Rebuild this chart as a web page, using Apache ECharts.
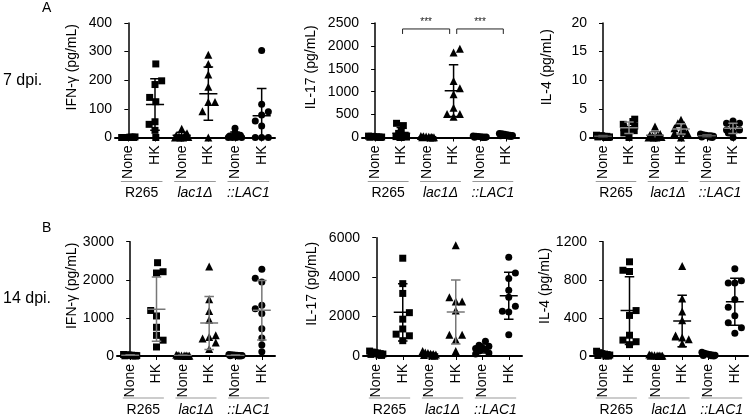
<!DOCTYPE html>
<html><head><meta charset="utf-8">
<script src="https://cdn.jsdelivr.net/npm/echarts@6/dist/echarts.min.js"></script>
<style>html,body{margin:0;padding:0;background:#fff}#c{width:750px;height:417px}</style>
</head><body><div id="c"></div>
<script>
// ---------- categories ----------
const categories = ['None','HK','None','HK','None','HK'];
const strains = ['R265','lac1Δ','::LAC1'];
const strainItalic = [false, true, true];
const groupSymbols = ['rect','rect','triangle','triangle','circle','circle'];
const spread = [-0.25,-0.15,-0.05,0.05,0.15,0.25,-0.2,0.1,0.2];

// ---------- A: 7 dpi, IFN-γ ----------
const ifn7Values = [
  [0,0,0,1,1,2,0,1,0],
  [257,198,185,140,125,55,46,25,0],
  [31,15,8,6,4,2,0,0,0],
  [289,257,220,177,124,124,92,0],
  [32,17,8,5,3,0,0,0,0],
  [304,116,90,79,58,40,0,0,0]
];
const ifn7Jitter = [
  spread,
  [0.03,0.25,0,-0.2,0.03,0,-0.22,0,0.03],
  [0,0.2,-0.2,0.1,-0.1,0.25,-0.25,0.05,-0.05],
  [0,0,0,0,0,0.25,-0.22,0],
  [0,0,0.2,-0.2,0.1,-0.25,0.25,-0.1,0.05],
  [0,0,0.25,0,-0.24,0,-0.24,0,0.25]
];
const ifn7Mean = [0.5,115,8,153,7,76];
const ifn7Sd = [1,90,10,93,12,95];

// ---------- A: 7 dpi, IL-17 ----------
const il17d7Values = [
  [30,25,20,15,10,10,5,5,0],
  [310,260,150,90,50,20,10,0,0],
  [35,25,20,15,10,5,5,0,0],
  [1857,1937,1235,1075,943,650,512,453,512],
  [35,25,20,15,10,10,5,0,0],
  [90,80,70,60,50,45,40,30,20]
];
const il17d7Jitter = [
  spread,
  [-0.18,0.08,0,-0.1,0.15,-0.2,0.2,0,-0.05],
  spread,
  [0,0.24,0,0.24,0,0,-0.25,0,0.24],
  spread,
  spread
];
const il17d7Mean = [15,95,15,1023,15,55];
const il17d7Sd = [10,125,12,563,12,25];

// ---------- A: 7 dpi, IL-4 ----------
const il4d7Values = [
  [0.4,0.3,0.3,0.2,0.2,0.1,0.1,0,0],
  [3.2,2.8,2.3,2.0,1.7,1.4,1.2,0.8,0],
  [1.9,0.6,0.4,0.3,0.2,0.1,0,0,0],
  [3.1,2.5,2.2,1.6,1.3,1.0,0.8,0.8,0],
  [0.6,0.5,0.4,0.3,0.3,0.2,0.1,0.1,0],
  [2.9,2.5,2.5,1.9,1.3,1.3,0.9,0.8,0]
];
const il4d7Jitter = [
  spread,
  [0.22,0.15,-0.22,0.22,-0.2,0,0.2,-0.2,0],
  [0,0.2,-0.2,0.1,-0.1,0.25,-0.25,0.05,-0.05],
  [0,-0.12,0.12,-0.25,0.12,0,-0.25,0.25,0],
  spread,
  [0,-0.25,0.25,0,-0.25,0.25,0,-0.18,0]
];
const il4d7Mean = [0.2,1.7,0.4,1.5,0.3,1.6];
const il4d7Sd = [0.15,1.0,0.6,0.9,0.2,0.9];

// ---------- B: 14 dpi, IFN-γ ----------
const ifn14Values = [
  [40,30,25,20,15,10,5,5,0],
  [2449,2178,2212,1195,1051,754,542,415,237],
  [30,20,15,10,10,5,5,0,0],
  [2347,1492,1178,949,458,500,542,356,186],
  [40,30,25,20,15,10,5,0,0],
  [2280,2042,1940,1330,1237,1118,712,475,288,110]
];
const ifn14Jitter = [
  spread,
  [0.04,0,0.25,-0.22,0,0,0,0.25,0],
  spread,
  [0,0,0,0,-0.25,0,0.25,0.25,0],
  spread,
  [0,-0.25,0,0,-0.25,0,0,0,0,0]
];
const ifn14Mean = [20,1229,10,864,15,1203];
const ifn14Sd = [15,845,10,695,12,780];

// ---------- B: 14 dpi, IL-17 ----------
const il17d14Values = [
  [250,200,180,150,120,100,80,50,30],
  [4959,3670,3174,2198,1868,1372,1107,1025,777],
  [250,180,150,120,100,80,50,30,10],
  [5620,2975,2760,2760,2314,1074,1074,826,248],
  [744,545,496,413,380,330,250,150,100],
  [5008,4215,3934,3339,2975,2529,2265,2231,1074]
];
const il17d14Jitter = [
  spread,
  [0,0,0,0.25,0,0,-0.25,0.25,0],
  spread,
  [0,-0.24,0,0.24,0,-0.24,0.24,0,0],
  [0.12,-0.12,0.25,0,-0.25,0.12,-0.12,0.25,-0.25],
  [0,0.25,0,0,0,0.25,-0.24,0,0]
];
const il17d14Mean = [130,2215,100,2231,380,3058];
const il17d14Sd = [70,1450,80,1620,230,1190];

// ---------- B: 14 dpi, IL-4 ----------
const il4d14Values = [
  [50,35,25,20,15,10,5,0,0],
  [989,900,887,477,426,218,167,150,119],
  [15,10,8,5,5,3,2,0,0],
  [945,604,467,375,215,205,194,177,130],
  [40,30,20,15,10,8,5,3,0],
  [917,791,767,767,593,512,423,348,297,239]
];
const il4d14Jitter = [
  spread,
  [0,-0.25,0,0.25,0,0,-0.25,0.25,0],
  spread,
  [0,0,0,0,-0.25,-0.25,0,0.25,0],
  spread,
  [0,0.25,-0.25,0,0,-0.25,0,-0.25,0.25,0]
];
const il4d14Mean = [20,477,5,368,15,569];
const il4d14Sd = [15,355,5,270,12,246];

// significance brackets (A, IL-17): [fromCat, toCat, level]
const brackets = [[1.05,2.85,2370],[3.12,4.9,2370]];
const bracketLabels = ['***','***'];

// y axes
const yMaxes = [400,2500,20,3000,6000,1200];
const yIntervals = [100,500,5,1000,2000,400];
const yNames = ['IFN-γ (pg/mL)','IL-17 (pg/mL)','IL-4 (pg/mL)','IFN-γ (pg/mL)','IL-17 (pg/mL)','IL-4 (pg/mL)'];

// ---------- layout / style ----------
const panels = [
  {v:ifn7Values, j:ifn7Jitter, m:ifn7Mean, s:ifn7Sd, grid:{left:115,top:23,width:160,height:114.5}, gap:36, under:44, err:['#000','#000','#000','#000','#000','#000']},
  {v:il17d7Values, j:il17d7Jitter, m:il17d7Mean, s:il17d7Sd, grid:{left:362,top:23,width:157,height:114.5}, gap:44, under:44, err:['#000','#000','#000','#000','#000','#000']},
  {v:il4d7Values, j:il4d7Jitter, m:il4d7Mean, s:il4d7Sd, grid:{left:590,top:23,width:156,height:114.5}, gap:36, under:44, err:['#555','#888','#555','#888','#555','#888']},
  {v:ifn14Values, j:ifn14Jitter, m:ifn14Mean, s:ifn14Sd, grid:{left:117,top:241.7,width:158,height:118.3}, gap:37, under:42, err:['#777','#777','#777','#777','#777','#777']},
  {v:il17d14Values, j:il17d14Jitter, m:il17d14Mean, s:il17d14Sd, grid:{left:363,top:237.7,width:159,height:121.6}, gap:44, under:42, err:['#000','#000','#000','#777','#000','#000']},
  {v:il4d14Values, j:il4d14Jitter, m:il4d14Mean, s:il4d14Sd, grid:{left:590,top:241.7,width:158,height:117.6}, gap:32, under:42, err:['#000','#000','#000','#000','#000','#000']}
];

const FONT = '"Liberation Sans", Arial, sans-serif';
const grids = [], xAxes = [], yAxes = [], series = [];

panels.forEach((p, pi) => {
  grids.push(Object.assign({containLabel:false}, p.grid));
  const xv = xAxes.length;
  xAxes.push({type:'value', gridIndex:pi, min:-0.5, max:5.5, show:false});
  xAxes.push({type:'category', gridIndex:pi, position:'bottom', data:categories, boundaryGap:true,
    axisLine:{show:true, lineStyle:{color:'#000', width:2}},
    axisTick:{show:true, alignWithLabel:true, length:4, lineStyle:{color:'#000', width:1}},
    axisLabel:{rotate:90, fontSize:14, color:'#000', margin:8, fontFamily:FONT, interval:0}
  });
  xAxes.push({type:'category', gridIndex:pi, position:'bottom', data:strains, boundaryGap:true,
    axisLine:{show:false}, axisTick:{show:false},
    axisLabel:{fontSize:14, color:'#000', margin:p.under + 5, fontFamily:FONT, interval:0,
      formatter:(val, idx) => strainItalic[idx] ? '{i|' + val + '}' : val,
      rich:{i:{fontStyle:'italic', fontSize:14, color:'#000', fontFamily:FONT}}}
  });
  yAxes.push({type:'value', gridIndex:pi, min:0, max:yMaxes[pi], interval:yIntervals[pi],
    axisLine:{show:true, lineStyle:{color:'#000', width:1.5}},
    axisTick:{show:true, length:4, lineStyle:{color:'#000', width:1}},
    axisLabel:{fontSize:14, color:'#000', margin:3, fontFamily:FONT, formatter:(v) => String(v)},
    splitLine:{show:false},
    name:yNames[pi], nameLocation:'middle', nameGap:p.gap,
    nameTextStyle:{fontSize:14, color:'#000', fontFamily:FONT, padding:[0,0,0,26]}
  });
  // scatter points
  p.v.forEach((vals, g) => {
    series.push({type:'scatter', xAxisIndex:xv, yAxisIndex:pi,
      symbol:groupSymbols[g], symbolSize: groupSymbols[g]==='triangle' ? 8 : 7,
      itemStyle:{color:'#000', opacity:1}, silent:true, clip:false,
      data: vals.map((y, k) => [g + p.j[g][k], y])});
  });
  // mean ± SD
  series.push({type:'custom', xAxisIndex:xv, yAxisIndex:pi, clip:true, silent:true, z:5,
    data: p.m.map((mm, g) => [g, mm, p.s[g]]),
    renderItem:(params, api) => {
      const x = api.value(0), m = api.value(1), s = api.value(2);
      const c = p.err[params.dataIndex];
      const pm = api.coord([x, m]), pt = api.coord([x, m + s]), pb = api.coord([x, m - s]);
      const wm = api.size([0.34, 0])[0], wc = api.size([0.18, 0])[0];
      const st = {stroke:c, lineWidth:1.5};
      return {type:'group', children:[
        {type:'line', shape:{x1:pm[0]-wm, y1:pm[1], x2:pm[0]+wm, y2:pm[1]}, style:st},
        {type:'line', shape:{x1:pt[0], y1:pt[1], x2:pb[0], y2:pb[1]}, style:st},
        {type:'line', shape:{x1:pt[0]-wc, y1:pt[1], x2:pt[0]+wc, y2:pt[1]}, style:st},
        {type:'line', shape:{x1:pb[0]-wc, y1:pb[1], x2:pb[0]+wc, y2:pb[1]}, style:st}
      ]};
    }});
  // strain underlines
  series.push({type:'custom', xAxisIndex:xv, yAxisIndex:pi, clip:false, silent:true,
    data: strains.map((s, g) => [g]),
    renderItem:(params, api) => {
      const g = api.value(0);
      const a = api.coord([2*g - 0.28, 0]), b = api.coord([2*g + 1 + 0.28, 0]);
      return {type:'line', shape:{x1:a[0], y1:a[1]+p.under, x2:b[0], y2:b[1]+p.under}, style:{stroke:'#999', lineWidth:1}};
    }});
  if (pi === 1) {
    series.push({type:'custom', xAxisIndex:xv, yAxisIndex:pi, clip:false, silent:true,
      data: brackets,
      renderItem:(params, api) => {
        const a = api.coord([api.value(0), api.value(2)]), b = api.coord([api.value(1), api.value(2)]);
        const st = {stroke:'#222', lineWidth:1};
        return {type:'group', children:[
          {type:'line', shape:{x1:a[0], y1:a[1], x2:b[0], y2:b[1]}, style:st},
          {type:'line', shape:{x1:a[0], y1:a[1], x2:a[0], y2:a[1]+5}, style:st},
          {type:'line', shape:{x1:b[0], y1:b[1], x2:b[0], y2:b[1]+5}, style:st},
          {type:'text', x:(a[0]+b[0])/2, y:a[1]-7, style:{text:bracketLabels[params.dataIndex], fill:'#222', font:'10px ' + FONT, textAlign:'center', textVerticalAlign:'middle'}}
        ]};
      }});
  }
});

const chart = echarts.init(document.getElementById('c'), null, {renderer:'canvas'});
chart.setOption({
  animation:false,
  backgroundColor:'#fff',
  title:[
    {text:'A', left:42, top:1, padding:0, textStyle:{fontSize:14, fontWeight:'normal', color:'#000', fontFamily:FONT}},
    {text:'7 dpi.', left:3, top:73, padding:0, textStyle:{fontSize:16, fontWeight:'normal', color:'#000', fontFamily:FONT}},
    {text:'B', left:42, top:221, padding:0, textStyle:{fontSize:14, fontWeight:'normal', color:'#000', fontFamily:FONT}},
    {text:'14 dpi.', left:3, top:291, padding:0, textStyle:{fontSize:16, fontWeight:'normal', color:'#000', fontFamily:FONT}}
  ],
  grid:grids, xAxis:xAxes, yAxis:yAxes, series:series
});
</script></body></html>
